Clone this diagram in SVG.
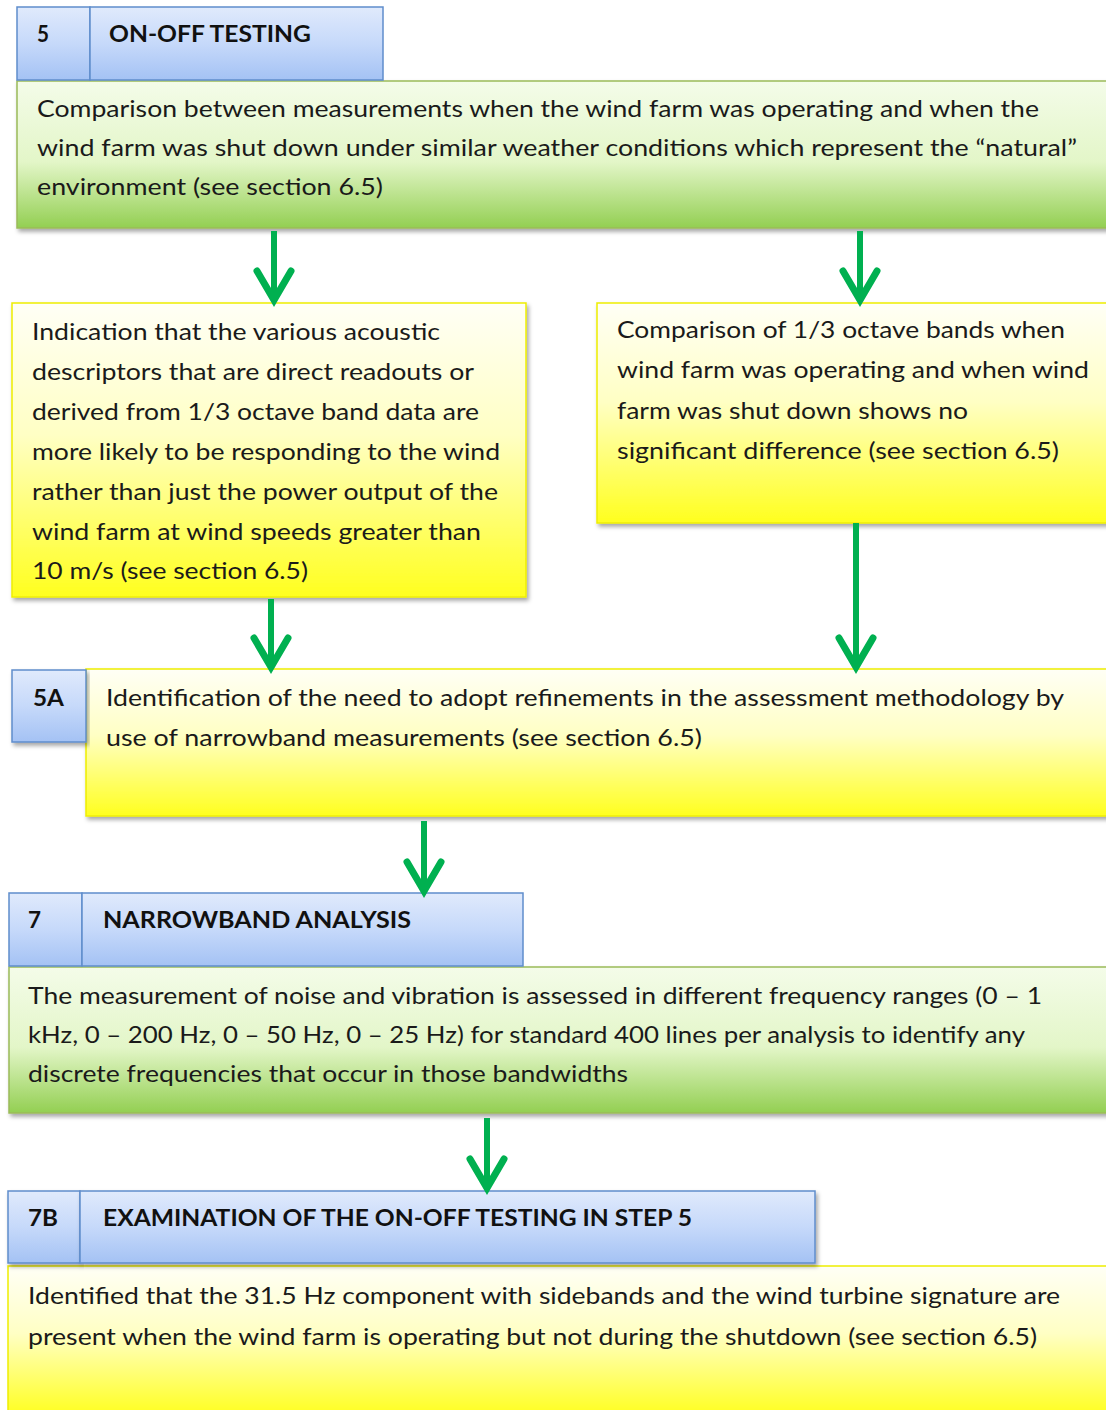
<svg xmlns="http://www.w3.org/2000/svg" width="1106" height="1410" viewBox="0 0 1106 1410">
<defs>
<linearGradient id="gBlue" x1="0" y1="0" x2="0" y2="1">
<stop offset="0" stop-color="#e0eafc"/><stop offset="0.5" stop-color="#c6d9fa"/><stop offset="1" stop-color="#a4c2f4"/>
</linearGradient>
<linearGradient id="gGreen" x1="0" y1="0" x2="0" y2="1">
<stop offset="0" stop-color="#f4fce9"/><stop offset="0.55" stop-color="#e3f6c8"/><stop offset="1" stop-color="#93cf52"/>
</linearGradient>
<linearGradient id="gYellow" x1="0" y1="0" x2="0" y2="1">
<stop offset="0" stop-color="#fffff6"/><stop offset="0.45" stop-color="#ffffc4"/><stop offset="1" stop-color="#ffff1e"/>
</linearGradient>
<filter id="sh" x="-5%" y="-5%" width="110%" height="120%">
<feDropShadow dx="2" dy="3" stdDeviation="2" flood-color="#000" flood-opacity="0.35"/>
</filter>
<marker id="ah" viewBox="-36 -22 44 44" refX="-4" refY="0" markerWidth="44" markerHeight="44" markerUnits="userSpaceOnUse" orient="auto">
<path d="M-29,-17 L0,0 L-29,17" fill="none" stroke="#00b050" stroke-width="7" stroke-linecap="round" stroke-linejoin="miter"/>
</marker>
<style>
.hb{fill:url(#gBlue);stroke:#5f8dcc;stroke-width:1.5}
.gb{fill:url(#gGreen);stroke:#9bbb59;stroke-width:1.5}
.yb{fill:url(#gYellow);stroke:#eeee00;stroke-width:1.5}
.t{font-family:Lato,"Liberation Sans",sans-serif;font-size:23px;fill:#1a1a1a}
.b{font-family:Lato,"Liberation Sans",sans-serif;font-size:23px;font-weight:bold;fill:#111}
.c{stroke:#00b050;stroke-width:6;fill:none;marker-end:url(#ah)}
</style>
</defs>
<rect width="1106" height="1410" fill="#fff"/>

<g id="step5">
<rect class="gb" x="17" y="81" width="1095" height="147" filter="url(#sh)"/>
<rect class="hb" x="17" y="7" width="73" height="73"/>
<rect class="hb" x="90" y="7" width="293" height="73"/>
<text class="b" x="37" y="42" textLength="12" lengthAdjust="spacingAndGlyphs">5</text>
<text class="b" x="109" y="42" textLength="202" lengthAdjust="spacingAndGlyphs">ON-OFF TESTING</text>
<text class="t" x="37" y="117" textLength="1002" lengthAdjust="spacingAndGlyphs">Comparison between measurements when the wind farm was operating and when the</text>
<text class="t" x="37" y="156" textLength="1040" lengthAdjust="spacingAndGlyphs">wind farm was shut down under similar weather conditions which represent the “natural”</text>
<text class="t" x="37" y="195" textLength="346" lengthAdjust="spacingAndGlyphs">environment (see section 6.5)</text>
</g>

<g id="indication">
<rect class="yb" x="12" y="303" width="514" height="294" filter="url(#sh)"/>
<text class="t" x="32" y="340" textLength="408" lengthAdjust="spacingAndGlyphs">Indication that the various acoustic</text>
<text class="t" x="32" y="380" textLength="442" lengthAdjust="spacingAndGlyphs">descriptors that are direct readouts or</text>
<text class="t" x="32" y="420" textLength="447" lengthAdjust="spacingAndGlyphs">derived from 1/3 octave band data are</text>
<text class="t" x="32" y="460" textLength="468" lengthAdjust="spacingAndGlyphs">more likely to be responding to the wind</text>
<text class="t" x="32" y="500" textLength="466" lengthAdjust="spacingAndGlyphs">rather than just the power output of the</text>
<text class="t" x="32" y="540" textLength="449" lengthAdjust="spacingAndGlyphs">wind farm at wind speeds greater than</text>
<text class="t" x="32" y="579" textLength="276" lengthAdjust="spacingAndGlyphs">10 m/s (see section 6.5)</text>
</g>

<g id="comparison">
<rect class="yb" x="597" y="303" width="515" height="220" filter="url(#sh)"/>
<text class="t" x="617" y="338" textLength="448" lengthAdjust="spacingAndGlyphs">Comparison of 1/3 octave bands when</text>
<text class="t" x="617" y="378" textLength="472" lengthAdjust="spacingAndGlyphs">wind farm was operating and when wind</text>
<text class="t" x="617" y="419" textLength="351" lengthAdjust="spacingAndGlyphs">farm was shut down shows no</text>
<text class="t" x="617" y="459" textLength="442" lengthAdjust="spacingAndGlyphs">significant difference (see section 6.5)</text>
</g>

<g id="step5A">
<rect class="yb" x="86" y="669" width="1026" height="147" filter="url(#sh)"/>
<rect class="hb" x="12" y="670" width="74" height="72" filter="url(#sh)"/>
<text class="b" x="33" y="706" textLength="31" lengthAdjust="spacingAndGlyphs">5A</text>
<text class="t" x="106" y="706" textLength="958" lengthAdjust="spacingAndGlyphs">Identification of the need to adopt refinements in the assessment methodology by</text>
<text class="t" x="106" y="746" textLength="596" lengthAdjust="spacingAndGlyphs">use of narrowband measurements (see section 6.5)</text>
</g>

<g id="step7">
<rect class="gb" x="9" y="967" width="1103" height="146" filter="url(#sh)"/>
<rect class="hb" x="9" y="893" width="73" height="73"/>
<rect class="hb" x="82" y="893" width="441" height="73"/>
<text class="b" x="28" y="928" textLength="13" lengthAdjust="spacingAndGlyphs">7</text>
<text class="b" x="103" y="928" textLength="308" lengthAdjust="spacingAndGlyphs">NARROWBAND ANALYSIS</text>
<text class="t" x="28" y="1004" textLength="1014" lengthAdjust="spacingAndGlyphs">The measurement of noise and vibration is assessed in different frequency ranges (0 – 1</text>
<text class="t" x="28" y="1043" textLength="997" lengthAdjust="spacingAndGlyphs">kHz, 0 – 200 Hz, 0 – 50 Hz, 0 – 25 Hz) for standard 400 lines per analysis to identify any</text>
<text class="t" x="28" y="1082" textLength="600" lengthAdjust="spacingAndGlyphs">discrete frequencies that occur in those bandwidths</text>
</g>

<g id="step7B">
<rect class="yb" x="8" y="1266" width="1104" height="150"/>
<rect class="hb" x="8" y="1191" width="72" height="72" filter="url(#sh)"/>
<rect class="hb" x="80" y="1191" width="735" height="72" filter="url(#sh)"/>
<text class="b" x="28" y="1226" textLength="30" lengthAdjust="spacingAndGlyphs">7B</text>
<text class="b" x="103" y="1226" textLength="589" lengthAdjust="spacingAndGlyphs">EXAMINATION OF THE ON-OFF TESTING IN STEP 5</text>
<text class="t" x="28" y="1304" textLength="1032" lengthAdjust="spacingAndGlyphs">Identified that the 31.5 Hz component with sidebands and the wind turbine signature are</text>
<text class="t" x="28" y="1345" textLength="1009" lengthAdjust="spacingAndGlyphs">present when the wind farm is operating but not during the shutdown (see section 6.5)</text>
</g>

<g id="connectors">
<path class="c" d="M274,231 V296"/>
<path class="c" d="M860,231 V296"/>
<path class="c" d="M271,599 V663"/>
<path class="c" d="M856,523 V663"/>
<path class="c" d="M424,821 V887"/>
<path class="c" d="M487,1118 V1184"/>
</g>
</svg>
